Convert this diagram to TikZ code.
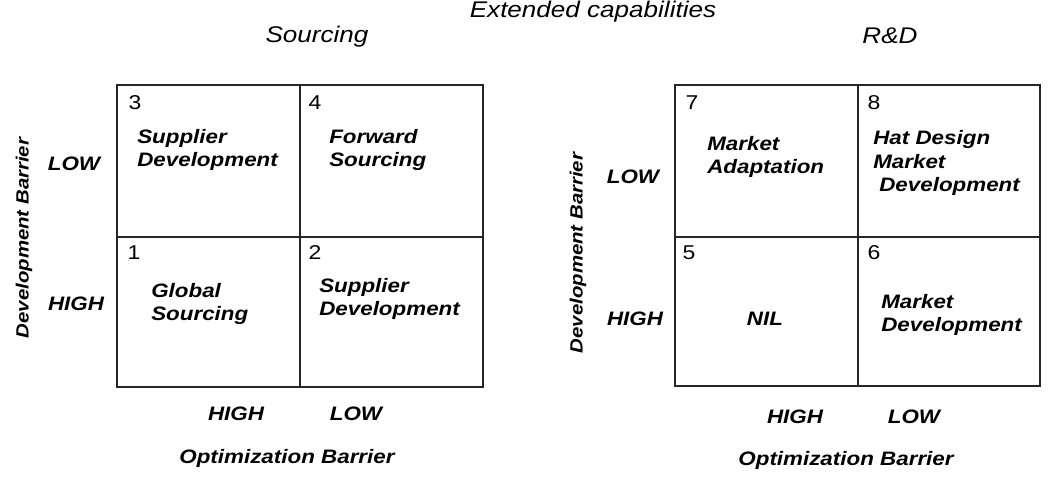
\documentclass[tikz,border=0pt]{standalone}
\usepackage{fontspec}
\setmainfont[FakeStretch=1.15]{Liberation Sans}

\tikzset{
  title/.style={font=\fontsize{17}{20}\selectfont\itshape, inner sep=0pt},
  cell/.style={font=\fontsize{14.6}{17.3}\selectfont\bfseries\itshape, align=left, anchor=west, inner sep=0pt},
  axis/.style={font=\fontsize{14.6}{17.3}\selectfont\bfseries\itshape, inner sep=0pt},
  num/.style={font=\fontsize{15}{18}\selectfont, inner sep=0pt},
  grid/.style={line width=1.3pt, black!85}
}

\begin{document}
\begin{tikzpicture}[x=0.75pt, y=-0.75pt]

\useasboundingbox (0,0) rectangle (1050,477);

\node[title, anchor=base] (ext) at (593,18) {Extended capabilities};
\node[title] (src) at (317,37) {Sourcing};
\node[title] (rnd) at (890,36) {R\&D};

% Matriz Sourcing
	\draw[grid] (117,85) rectangle (483,387);
	\draw[grid] (300,85) -- (300,387);
	\draw[grid] (117,237) -- (483,237);

	\node[num] (n3) at (135,103) {3};
	\node[num] (n4) at (315,103) {4};
	\node[num] (n1) at (134,253) {1};
	\node[num] (n2) at (315,253) {2};

	\node[cell] (c3) at (137,150) {Supplier\\Development};
	\node[cell] (c4) at (329,150) {Forward\\Sourcing};
	\node[cell] (c1) at (151,304) {Global\\Sourcing};
	\node[cell] (c2) at (319,299) {Supplier\\Development};

	\node[axis] (lowS) at (74,164) {LOW};
	\node[axis] (highS) at (76,304) {HIGH};
	\node[axis] (hiS) at (236,414) {HIGH};
	\node[axis] (loS) at (356,414) {LOW};
	\node[axis] (optS) at (287,458) {Optimization Barrier};
	\node[axis, rotate=90, font=\fontsize{13.3}{16}\selectfont\bfseries\itshape] (devS) at (24,238) {Development Barrier};

% Matriz R&D
	\draw[grid] (675,85) rectangle (1040,386);
	\draw[grid] (858,85) -- (858,386);
	\draw[grid] (675,237) -- (1040,237);

	\node[num] (n7) at (692,103) {7};
	\node[num] (n8) at (874,103) {8};
	\node[num] (n5) at (689,253) {5};
	\node[num] (n6) at (874,253) {6};

	\node[cell] (c7) at (707,157) {Market\\Adaptation};
	\node[cell] (c8) at (873,163) {Hat Design\\Market\\\hspace{4.5pt}Development};
	\node[axis] (c5) at (765,319) {NIL};
	\node[cell] (c6) at (881,315) {Market\\Development};

	\node[axis] (lowR) at (633,177) {LOW};
	\node[axis] (highR) at (635,319) {HIGH};
	\node[axis] (hiR) at (795,417) {HIGH};
	\node[axis] (loR) at (914,417) {LOW};
	\node[axis] (optR) at (846,460) {Optimization Barrier};
	\node[axis, rotate=90, font=\fontsize{13.3}{16}\selectfont\bfseries\itshape] (devR) at (578,253) {Development Barrier};
\end{tikzpicture}
\end{document}
